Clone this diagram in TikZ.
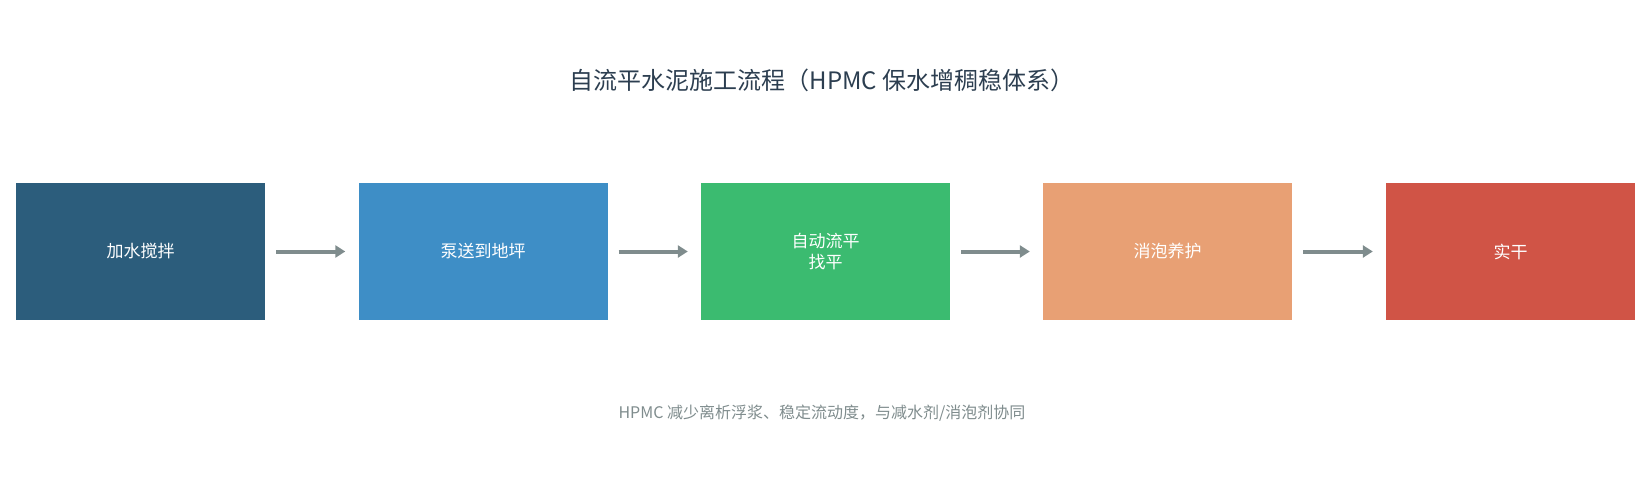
\documentclass[tikz,border=0pt]{standalone}
\usepackage{fontspec}
\setmainfont{Noto Sans CJK SC}
\usetikzlibrary{arrows.meta}
\definecolor{c1}{HTML}{2C5D7C}
\definecolor{c2}{HTML}{3E8EC6}
\definecolor{c3}{HTML}{3BBB70}
\definecolor{c4}{HTML}{E8A074}
\definecolor{c5}{HTML}{D05446}
\definecolor{ar}{HTML}{7F8C8D}
\definecolor{tt}{HTML}{2C3E50}
\begin{document}
\begin{tikzpicture}[x=1pt,y=-1pt,
  box/.style={draw=none,minimum width=249pt,minimum height=137pt,inner sep=0pt,text=white,font=\fontsize{17}{21}\selectfont,align=center},
  arr/.style={draw=ar,line width=4pt,-{Triangle[length=10pt,width=12pt]}}]
\useasboundingbox (0,0) rectangle (1650,495);
\node[font=\fontsize{24}{28}\selectfont,text=tt] (title) at (822,80) {自流平水泥施工流程（HPMC 保水增稠稳体系）};
\node[box,fill=c1] (b1) at (140.5,251.5) {加水搅拌};
\node[box,fill=c2] (b2) at (483,251.5) {泵送到地坪};
\node[box,fill=c3] (b3) at (825.5,251.5) {自动流平\\找平};
\node[box,fill=c4] (b4) at (1167.5,251.5) {消泡养护};
\node[box,fill=c5] (b5) at (1510.5,251.5) {实干};
\foreach \a/\b in {b1/b2,b2/b3,b3/b4,b4/b5}
  \draw[arr] ([xshift=11pt]\a.east) -- ([xshift=-13pt]\b.west);
\node[font=\fontsize{16}{20}\selectfont,text=ar] (foot) at (822,413) {HPMC 减少离析浮浆、稳定流动度，与减水剂/消泡剂协同};
\end{tikzpicture}
\end{document}
